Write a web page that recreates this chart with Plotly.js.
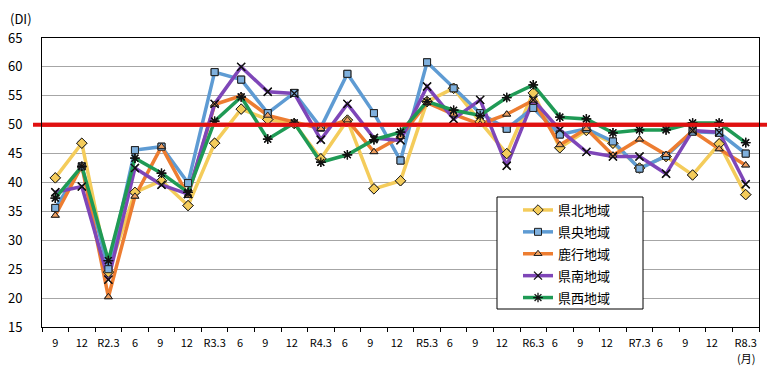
<!DOCTYPE html>
<html>
<head>
<meta charset="utf-8">
<script src="https://cdn.plot.ly/plotly-3.0.1.min.js"></script>
<style>html,body{margin:0;padding:0;background:#fff;}#chart{width:775px;height:367px;}</style>
</head>
<body>
<div id="chart"></div>
<script>
const categories = ["9","12","R2.3","6","9 ","12 ","R3.3","6 ","9  ","12  ","R4.3","6  ","9   ","12   ","R5.3","6   ","9    ","12    ","R6.3","6    ","9     ","12     ","R7.3","6     ","9      ","12      ","R8.3"];
const seriesNames = ["県北地域","県央地域","鹿行地域","県南地域","県西地域"];
const kenpoku = [40.8,46.8,24.5,38.3,40.3,36.0,46.8,52.7,50.9,50.2,44.1,50.8,38.9,40.3,54.0,56.3,50.5,45.0,55.5,46.0,49.0,46.8,42.5,44.5,41.3,46.7,37.9];
const kenou   = [35.6,42.8,25.0,45.6,46.2,39.9,59.1,57.8,52.0,55.5,49.5,58.8,52.0,43.8,60.8,56.3,52.0,49.3,52.9,48.3,49.3,47.1,42.4,44.6,48.8,48.6,45.0];
const rokko   = [34.3,42.9,20.2,37.6,46.2,37.7,53.5,55.0,51.6,50.4,49.3,50.8,45.3,47.9,53.8,51.8,50.1,51.8,54.2,46.5,49.3,44.7,47.5,44.8,48.9,45.8,43.0];
const kennan  = [38.3,39.3,23.2,42.5,39.6,38.0,53.6,60.0,55.7,55.4,47.4,53.6,47.7,47.3,56.6,51.0,54.3,42.9,54.3,49.1,45.3,44.5,44.5,41.5,49.0,48.7,39.7];
const kensei  = [37.3,42.8,26.5,44.2,41.6,38.3,50.6,54.8,47.5,50.3,43.5,44.8,47.4,48.7,54.0,52.5,51.6,54.7,56.9,51.3,51.0,48.6,49.1,49.1,50.3,50.3,46.9];
const baseline = 50;
const yTicks = [15,20,25,30,35,40,45,50,55,60,65];

const values = [kenpoku, kenou, rokko, kennan, kensei];
const colors = ["#F4CC5B","#5E9BD3","#ED7D31","#7E46B8","#1F9A55"];
const markers = [
  {symbol:"diamond", size:8, color:"#F4CC5B", line:{color:"#222",width:1}},
  {symbol:"square", size:7, color:"#7FB0DD", line:{color:"#222",width:1}},
  {symbol:"triangle-up", size:7, color:"#F0A060", line:{color:"#222",width:1}},
  {symbol:"x-thin-open", size:8, color:"#111", line:{width:1.3}},
  {symbol:"asterisk-open", size:8, color:"#111", line:{width:1.3}}
];

const traces = [];
values.forEach((v,i)=>{
  traces.push({type:"scatter", mode:"lines+markers", name:seriesNames[i], x:categories, y:v,
    line:{color:colors[i], width:3.5}, marker:markers[i], legendgroup:"g"+i, hoverinfo:"skip"});
});
traces.push({type:"scatter", mode:"lines", x:[0,1], y:[baseline,baseline], xaxis:"x2", yaxis:"y",
  line:{color:"#E01010", width:4}, showlegend:false, hoverinfo:"skip"});
values.forEach((v,i)=>{
  traces.push({type:"scatter", mode:"markers", x:categories, y:v, marker:markers[i], showlegend:false, hoverinfo:"skip"});
});

const fontFam = "'Noto Sans CJK JP', 'Noto Sans', sans-serif";
const L=42, R=16, T=38, B=40, W=775, H=367;
const pw = W-L-R, ph = H-T-B;
const px = x => (x-L)/pw;
const py = y => (H-B-y)/ph;

const layout = {
  width:W, height:H,
  margin:{l:L, r:R, t:T, b:B, pad:0},
  paper_bgcolor:"#fff", plot_bgcolor:"#fff",
  font:{family:fontFam, color:"#000"},
  showlegend:true,
  xaxis:{type:"category", tickson:"boundaries", ticks:"outside", ticklen:4, tickcolor:"#000",
    showline:true, linecolor:"#000", linewidth:1, mirror:true, showgrid:false, zeroline:false,
    tickangle:0, ticklabelstandoff:6, tickfont:{size:11, family:fontFam}, range:[-0.5,26.5], fixedrange:true},
  xaxis2:{overlaying:"x", range:[0,1], visible:false, fixedrange:true},
  yaxis:{range:[15,65], tickvals:yTicks, showgrid:true, gridcolor:"#a6a6a6", gridwidth:1,
    showline:true, linecolor:"#000", linewidth:1, mirror:true, zeroline:false, ticks:"",
    ticklabelstandoff:16, tickfont:{size:13, family:fontFam}, fixedrange:true},
  legend:{x:px(518), y:py(195), xanchor:"left", yanchor:"top", bgcolor:"rgba(0,0,0,0)",
    borderwidth:0, font:{size:13, family:fontFam}, tracegroupgap:2, traceorder:"grouped"},
  shapes:[
    {type:"line", xref:"paper", yref:"y", x0:px(33), x1:px(767), y0:baseline, y1:baseline,
      line:{color:"#E01010", width:4}, layer:"below"},
    {type:"rect", xref:"paper", yref:"paper", x0:px(497), x1:px(643), y0:py(309), y1:py(197),
      line:{color:"#000", width:1}, fillcolor:"#fff", layer:"above"}
  ],
  annotations:[
    {text:"(DI)", xref:"paper", yref:"paper", x:px(8), y:py(18), xanchor:"left", yanchor:"middle",
      showarrow:false, font:{size:13, family:fontFam}},
    {text:"(月)", xref:"paper", yref:"paper", x:px(746), y:py(358), xanchor:"center", yanchor:"middle",
      showarrow:false, font:{size:11, family:fontFam}}
  ]
};

Plotly.newPlot("chart", traces, layout, {displayModeBar:false, staticPlot:true});
</script>
</body>
</html>
